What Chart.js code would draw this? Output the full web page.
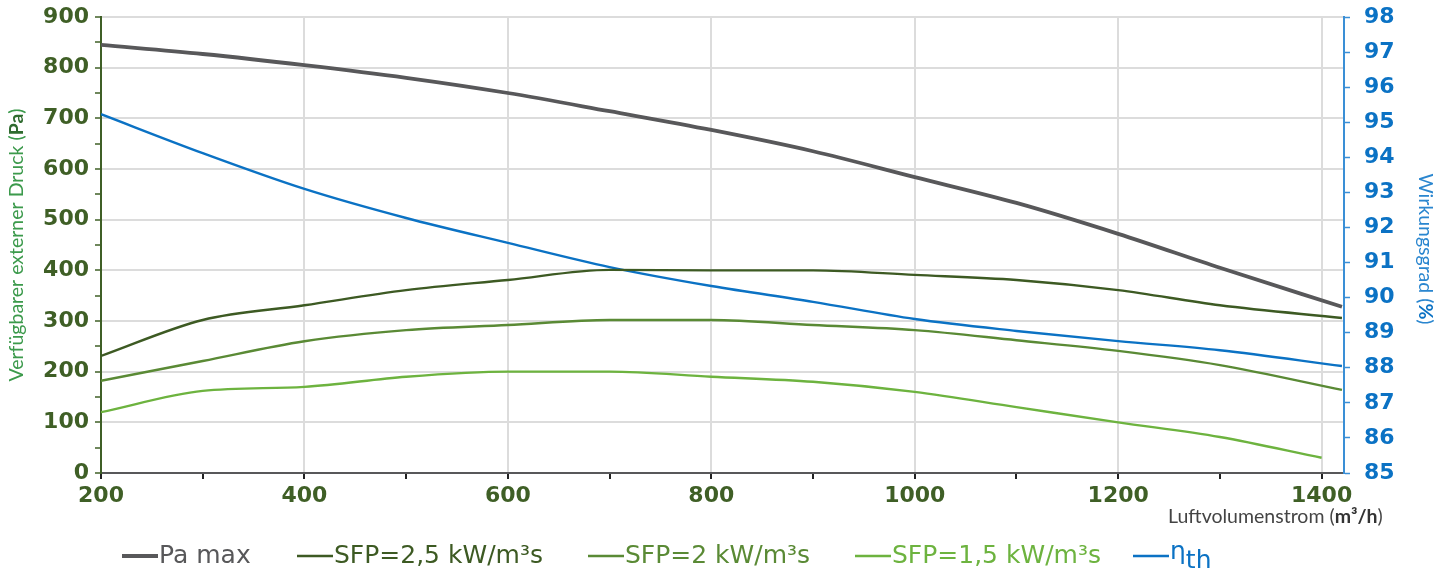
<!DOCTYPE html>
<html>
<head>
<meta charset="utf-8">
<script src="https://cdn.jsdelivr.net/npm/chart.js@4"></script>
<style>
  html, body { margin: 0; padding: 0; background: #fff; }
  #wrap { width: 1446px; height: 574px; }
</style>
</head>
<body>
<div id="wrap"><canvas id="chart" width="1446" height="574"></canvas></div>
<script>
// air volume flow (m3/h)
const flow = [200, 300, 400, 500, 600, 700, 800, 900, 1000, 1100, 1200, 1300, 1420];
const flowSfp15 = [200, 300, 400, 500, 600, 700, 800, 900, 1000, 1100, 1200, 1300, 1400];

// available external pressure (Pa)
const paMax = [845, 827, 805, 780, 750, 714, 677, 635, 584, 533, 472, 405, 328];
const sfp25 = [231, 302, 331, 361, 381, 401, 400, 400, 391, 381, 361, 331, 306];
const sfp20 = [182, 221, 260, 282, 292, 302, 302, 292, 282, 262, 241, 213, 164];
const sfp15 = [120, 162, 170, 190, 200, 200, 190, 180, 160, 130, 100, 71, 30];

// thermal efficiency (%)
const etaTh = [95.23, 94.12, 93.1, 92.27, 91.56, 90.87, 90.33, 89.88, 89.39, 89.05, 88.76, 88.5, 88.05];

const labels = ["Pa max", "SFP=2,5 kW/m³s", "SFP=2 kW/m³s", "SFP=1,5 kW/m³s", "η", "th"];
const legendX = [122, 297, 588, 855, 1133];

const GRAY = "#58585a";
const DARK = "#3d5a23";
const MID = "#5a8a35";
const LIGHT = "#6db33f";
const BLUE = "#0b72c4";
const TICK = "#3f5f26";

function pts(xs, ys) {
  return xs.map((x, i) => ({ x: x, y: ys[i] }));
}

function line(label, xs, ys, color, width, axis) {
  return {
    label: label,
    data: pts(xs, ys),
    borderColor: color,
    backgroundColor: color,
    borderWidth: width,
    pointRadius: 0,
    tension: 0.4,
    cubicInterpolationMode: "monotone",
    yAxisID: axis,
  };
}

// axis titles with a bold unit part, plus the legend row
const extras = {
  id: "extras",
  afterDraw(chart) {
    const ctx = chart.ctx;
    function pieces(parts, x, y, rot, align) {
      ctx.save();
      ctx.translate(x, y);
      ctx.rotate(rot);
      ctx.textBaseline = "middle";
      let total = 0;
      parts.forEach((p) => {
        ctx.font = p.font;
        total += ctx.measureText(p.text).width;
      });
      let pos = align === "center" ? -total / 2 : 0;
      parts.forEach((p) => {
        ctx.font = p.font;
        ctx.fillStyle = p.color;
        ctx.fillText(p.text, pos, p.dy || 0);
        pos += ctx.measureText(p.text).width;
      });
      ctx.restore();
      return total;
    }
    const reg = "19.5px Lato";
    const bold = "bold 19.5px Lato";
    pieces(
      [
        { text: "Verfügbarer externer Druck (", font: reg, color: "#3c9a4c" },
        { text: "Pa", font: bold, color: "#2f6b2f" },
        { text: ")", font: reg, color: "#3c9a4c" },
      ],
      17, 245, -Math.PI / 2, "center"
    );
    pieces(
      [
        { text: "Wirkungsgrad (", font: reg, color: "#2a86cf" },
        { text: "%", font: bold, color: BLUE },
        { text: ")", font: reg, color: "#2a86cf" },
      ],
      1425, 249, Math.PI / 2, "center"
    );
    pieces(
      [
        { text: "Luftvolumenstrom (", font: reg, color: "#444" },
        { text: "m³/h", font: bold, color: "#333" },
        { text: ")", font: reg, color: "#444" },
      ],
      1168, 517, 0, "left"
    );

    // legend
    const ds = chart.data.datasets;
    const lf = "25px 'DejaVu Sans'";
    const y = 556;
    ds.forEach((d, i) => {
      const x = legendX[i];
      ctx.save();
      ctx.strokeStyle = d.borderColor;
      ctx.lineWidth = i === 0 ? 4 : 2.5;
      ctx.beginPath();
      ctx.moveTo(x, y);
      ctx.lineTo(x + 36, y);
      ctx.stroke();
      ctx.restore();
      const parts = i === 4
        ? [
            { text: labels[4], font: lf, color: d.borderColor, dy: -4 },
            { text: labels[5], font: lf, color: d.borderColor, dy: 5 },
          ]
        : [{ text: d.label, font: lf, color: d.borderColor }];
      pieces(parts, x + 37, y, 0, "left");
    });
  },
};

const tickFont = { family: "DejaVu Sans", size: 22, weight: "bold" };

function noPad(scale) {
  scale.paddingTop = 0;
  scale.paddingBottom = 0;
}

new Chart(document.getElementById("chart").getContext("2d"), {
  type: "line",
  data: {
    datasets: [
      line(labels[0], flow, paMax, GRAY, 3.8, "y"),
      line(labels[1], flow, sfp25, DARK, 2.4, "y"),
      line(labels[2], flow, sfp20, MID, 2.4, "y"),
      line(labels[3], flowSfp15, sfp15, LIGHT, 2.4, "y"),
      line("ηth", flow, etaTh, BLUE, 2.4, "y1"),
    ],
  },
  options: {
    responsive: false,
    animation: false,
    layout: { padding: { top: 17, left: 0, right: 0, bottom: 0 } },
    plugins: {
      tooltip: { enabled: false },
      legend: { display: false },
    },
    scales: {
      x: {
        type: "linear",
        min: 200,
        max: 1422,
        afterBuildTicks(scale) {
          scale.ticks = [];
          for (let v = 200; v <= 1400; v += 100) scale.ticks.push({ value: v });
        },
        afterFit(scale) {
          scale.height = 101;
          scale.paddingLeft = 0;
          scale.paddingRight = 0;
        },
        ticks: {
          color: TICK,
          font: tickFont,
          padding: 4,
          maxRotation: 0,
          autoSkip: false,
          callback: (v) => (v % 200 === 0 ? v : ""),
        },
        grid: {
          color: (c) => (c.tick && c.tick.value % 200 === 0 && c.tick.value > 200 ? "#dcdcdc" : "transparent"),
          tickColor: "#222",
          tickLength: 6,
          lineWidth: 2,
          tickWidth: 2,
        },
        border: { color: GRAY, width: 2 },
      },
      y: {
        position: "left",
        min: 0,
        max: 900,
        afterBuildTicks(scale) {
          scale.ticks = [];
          for (let v = 0; v <= 900; v += 50) scale.ticks.push({ value: v });
        },
        afterFit(scale) {
          scale.width = 101;
          noPad(scale);
        },
        ticks: {
          color: TICK,
          font: tickFont,
          padding: 6,
          autoSkip: false,
          callback: (v) => (v % 100 === 0 ? v : ""),
        },
        grid: {
          color: (c) => (c.tick && c.tick.value % 100 === 0 && c.tick.value > 0 ? "#dcdcdc" : "transparent"),
          tickColor: TICK,
          tickLength: 6,
          lineWidth: 2,
          tickWidth: 1.5,
        },
        border: { color: TICK, width: 2 },
      },
      y1: {
        position: "right",
        min: 85,
        max: 98,
        afterBuildTicks(scale) {
          scale.ticks = [];
          for (let v = 85; v <= 98; v += 1) scale.ticks.push({ value: v });
        },
        afterFit(scale) {
          scale.width = 102;
          noPad(scale);
        },
        ticks: {
          color: BLUE,
          font: tickFont,
          padding: 14,
          autoSkip: false,
        },
        grid: {
          drawOnChartArea: false,
          tickColor: "#3a8fd6",
          tickLength: 6,
          tickWidth: 1.5,
        },
        border: { color: "#3a8fd6", width: 2 },
      },
    },
  },
  plugins: [extras],
});
</script>
</body>
</html>
